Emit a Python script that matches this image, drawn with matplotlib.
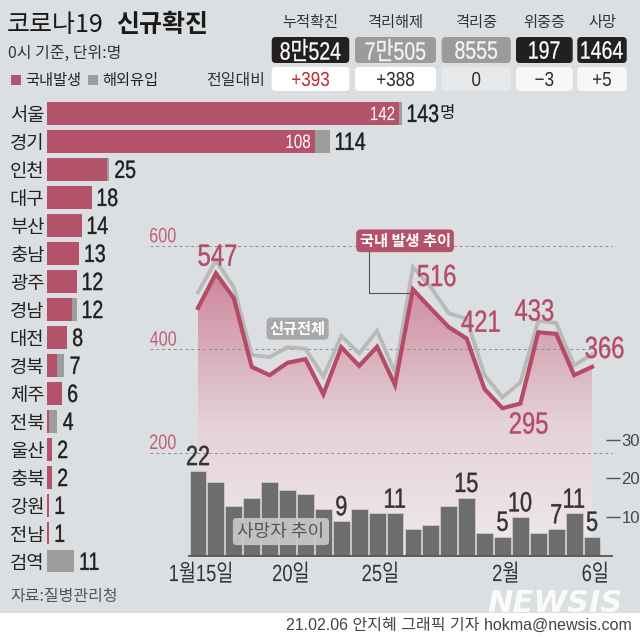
import numpy as np
import matplotlib

matplotlib.use("Agg")
import matplotlib.pyplot as plt
from matplotlib.patches import FancyBboxPatch, Rectangle, Polygon, PathPatch
from matplotlib.colors import LinearSegmentedColormap
from matplotlib.font_manager import FontProperties
from matplotlib.textpath import TextPath
from matplotlib.transforms import Affine2D, ScaledTranslation

W, H = 640, 637

# ---- data ----
regions = ["서울", "경기", "인천", "대구", "부산", "충남", "광주", "경남", "대전",
           "경북", "제주", "전북", "울산", "충북", "강원", "전남", "검역"]
local_by_region = [142, 108, 24, 18, 14, 13, 12, 10, 8, 4, 6, 1, 2, 2, 1, 1, 0]
imported_by_region = [1, 6, 1, 0, 0, 0, 0, 2, 0, 3, 0, 3, 0, 0, 0, 0, 11]

# 1/15 .. 2/6
total_cases = [510, 572, 520, 389, 385, 404, 401, 347, 426, 392, 436, 355, 559,
               520, 470, 459, 350, 307, 336, 455, 451, 369, 390]
local_cases = [480, 547, 499, 366, 350, 374, 381, 313, 404, 368, 405, 331, 516,
               479, 443, 421, 323, 286, 295, 433, 430, 350, 366]
deaths = [22, 19, 13, 15, 19, 17, 16, 12, 9, 12, 11, 11, 7, 8, 13, 15, 6, 5, 10,
          6, 7, 11, 5]
day_ticks = [0, 5, 10, 17, 22]
day_tick_labels = ["1월15일", "20일", "25일", "2월", "6일"]

local_labelled = [1, 12, 15, 18, 19, 22]
death_labelled = [0, 8, 11, 15, 17, 18, 20, 21, 22]

summary_heads = ["누적확진", "격리해제", "격리중", "위중증", "사망"]
summary_values = ["8만524", "7만505", "8555", "197", "1464"]
summary_change = ["+393", "+388", "0", "−3", "+5"]

# ---- style ----
BG = "#dcdfe2"
PINK = "#b4526b"
LINE_PINK = "#b54b69"
IMPORT_GRAY = "#9d9d9d"
DARK = "#231f20"

KR = ["Noto Sans CJK KR", "DejaVu Sans"]
NUM = ["Liberation Sans", "Noto Sans CJK KR", "DejaVu Sans"]


def px_rect(left, top, right, bottom):
    return [left / W, 1 - bottom / H, (right - left) / W, (bottom - top) / H]


def squeezed(ax, xy, s, size, color, ha="center", va="center", offset=(0, 0),
             sx=0.78, lw=0.0, zorder=6, trans=None):
    """condensed text: glyph outlines squeezed horizontally, anchored on ink box"""
    tp = TextPath((0, 0), s, size=size, prop=FontProperties(family=NUM))
    e = tp.get_extents()
    ox = {"left": e.x0, "center": (e.x0 + e.x1) / 2, "right": e.x1}[ha]
    oy = {"bottom": e.y0, "center": (e.y0 + e.y1) / 2, "top": e.y1}[va]
    k = ax.figure.dpi / 72
    tr = (Affine2D().translate(-ox, -oy).scale(sx * k, k)
          .translate(offset[0] * k, offset[1] * k)
          + ScaledTranslation(xy[0], xy[1], trans or ax.transData))
    p = PathPatch(tp, transform=tr, fc=color, ec=color if lw else "none", lw=lw,
                  zorder=zorder, clip_on=False)
    ax.add_artist(p)
    return p


def draw_region_bars(fig):
    ax = fig.add_axes(px_rect(47, 99.3, 460, 575.3))
    ax.set_facecolor("none")
    y = np.arange(len(regions))
    ax.barh(y, local_by_region, height=0.8, color=PINK)
    ax.barh(y, imported_by_region, left=local_by_region, height=0.8, color=IMPORT_GRAY)
    ax.set_ylim(len(regions) - 0.5, -0.5)
    ax.set_xlim(0, 166.5)
    ax.set_yticks(y, labels=regions, fontsize=13.5, color="#222222", family=KR)
    ax.tick_params(axis="y", length=0, pad=2)
    ax.set_xticks([])
    for s in ax.spines.values():
        s.set_visible(False)

    for i, (l, m) in enumerate(zip(local_by_region, imported_by_region)):
        p = squeezed(ax, (l + m, i), str(l + m), 18, "#1e1e1e", ha="left",
                     offset=(4.5, 0), lw=0.3)
        if i == 0:
            ax.annotate("명", xy=(1, 0.5), xycoords=p, xytext=(1, 0),
                        textcoords="offset points", ha="left", va="center",
                        fontsize=12, family=KR, color="#1e1e1e")
        if l > 100:
            squeezed(ax, (l, i), str(l), 14, "white", ha="right", offset=(-3.5, 0))


def draw_trend(fig):
    px_day, x0 = 17.91, 198.0
    x_lo, x_hi = (150 - x0) / px_day, (613 - x0) / px_day
    ax = fig.add_axes(px_rect(150, 226, 613, 556))
    ax.set_facecolor("none")
    days = np.arange(len(local_cases))

    # gradient fill under domestic line
    cmap = LinearSegmentedColormap.from_list(
        "fade", [(0, "#efeaec"), (0.45, "#e5d2d8"), (1, "#cb8398")])
    grad = np.linspace(0, 1, 256).reshape(-1, 1)
    im = ax.imshow(grad, extent=[days[0], days[-1], 0, 560], origin="lower",
                   aspect="auto", cmap=cmap, zorder=1)
    verts = np.column_stack([np.r_[days, days[-1], days[0]],
                             np.r_[local_cases, 0, 0]])
    poly = Polygon(verts, closed=True, facecolor="none", edgecolor="none")
    ax.add_patch(poly)
    im.set_clip_path(poly)

    for v in (200, 400, 600):
        ax.axhline(v, color="#8c8c8c", lw=0.7, ls=(0, (3, 3)), zorder=2)
        squeezed(ax, (x_lo, v), str(v), 15, "#c0607a", ha="left", va="bottom",
                 offset=(0, 2.5), zorder=2)

    ax.plot(days, total_cases, color="#b9b9b9", lw=2.8, zorder=3, solid_joinstyle="miter")
    ax.plot(days, local_cases, color=LINE_PINK, lw=3, zorder=4, solid_joinstyle="miter")

    offsets = {1: (1, 13), 12: (17, 10), 15: (10, 12.5), 18: (6, -14), 19: (-3, 16),
               22: (9, 14)}
    for i in local_labelled:
        squeezed(ax, (i, local_cases[i]), str(local_cases[i]), 22, LINE_PINK,
                 offset=offsets[i], lw=0.3)

    ax.plot([9.55, 9.55, 11.95], [600, 509, 509], color="#555555", lw=0.8, zorder=3)
    ax.text(11.56, 610, "국내 발생 추이", ha="center", va="center", fontsize=11,
            fontweight="bold", color="white", family=KR, zorder=7,
            bbox=dict(boxstyle="round,pad=0.22,rounding_size=0.3", fc=PINK, ec="none"))
    ax.text(5.56, 440, "신규전체", ha="center", va="center", fontsize=11,
            fontweight="bold", color="white", family=KR, zorder=7,
            bbox=dict(boxstyle="round,pad=0.2,rounding_size=0.3", fc="#a8a8a8", ec="none"))

    ax.set_xlim(x_lo, x_hi)
    ax.set_ylim(0, 330 / 0.5167)
    ax.set_yticks([])
    ax.set_xticks([])
    for d, lab in zip(day_ticks, day_tick_labels):
        squeezed(ax, (d, 0), lab, 17, "#333333", va="top", offset=(2, -4))
    for s in ax.spines.values():
        s.set_visible(False)

    # deaths
    tw = ax.twinx()
    tw.set_ylim(0, 330 / 3.88)
    tw.bar(days, deaths, width=0.94, color="#6d6d6d", edgecolor="#d2d2d2", lw=0.5, zorder=2)
    tw.hlines(0, -0.56, x_hi, color="#555555", lw=1.3, clip_on=False, zorder=3)
    for i in death_labelled:
        squeezed(tw, (i, deaths[i]), str(deaths[i]), 20, "#333333", va="bottom",
                 offset=(0, 4), lw=0.3)
    tw.text(4.63, 6.3, "사망자 추이", ha="center", va="center", fontsize=13,
            color="#555555", family=KR, zorder=5,
            bbox=dict(boxstyle="round,pad=0.25,rounding_size=0.2", fc="#c8c8c8",
                      ec="none", alpha=0.92))
    tw.set_yticks([10, 20, 30])
    tw.tick_params(axis="y", direction="inout", length=10, width=1, color="#555555",
                   labelsize=12, labelcolor="#444444", pad=1)
    for lbl in tw.get_yticklabels():
        lbl.set_family(NUM)
    for s in tw.spines.values():
        s.set_visible(False)


def draw_header(ov):
    ov.text(7, 25, "코로나19", fontsize=18, family=KR, color="#1a1a1a", va="center")
    ov.text(116, 25, "신규확진", fontsize=18, family=KR, fontweight="bold",
            color="#1a1a1a", va="center")
    ov.text(8, 53, "0시 기준, 단위:명", fontsize=11.5, family=KR, color="#333333", va="center")
    ov.add_patch(Rectangle((11, 75), 10, 10, fc=PINK, ec="none"))
    ov.text(25, 80, "국내발생", fontsize=11, family=KR, color="#222222", va="center")
    ov.add_patch(Rectangle((88, 75), 10, 10, fc=IMPORT_GRAY, ec="none"))
    ov.text(102, 80, "해외유입", fontsize=11, family=KR, color="#222222", va="center")
    ov.text(206, 80, "전일대비", fontsize=11.5, family=KR, color="#333333", va="center")

    cols = [(271.7, 349.3), (355, 436), (441.7, 510.7), (516, 572.7), (577.3, 626.7)]
    top_fc = [DARK, "#9b9b9b", "#9b9b9b", DARK, DARK]
    low_fc = ["#ffffff", "#ffffff", "#e6e8e9", "#f7f7f7", "#f7f7f7"]
    low_tc = ["#c1272d", "#2b2b2b", "#2b2b2b", "#2b2b2b", "#2b2b2b"]
    for k, (a, b) in enumerate(cols):
        cx = (a + b) / 2
        ov.text(cx, 23, summary_heads[k], ha="center", va="center", fontsize=11,
                family=KR, color="#333333")
        ov.add_patch(FancyBboxPatch((a, 37), b - a, 26, boxstyle="round,pad=0,rounding_size=4",
                                    fc=top_fc[k], ec="none"))
        squeezed(ov, (cx, 50), summary_values[k], 18, "white" if k != 1 and k != 2 else "#f4f4f4",
                 lw=0.2)
        ov.add_patch(FancyBboxPatch((a, 67), b - a, 24, boxstyle="round,pad=0,rounding_size=4",
                                    fc=low_fc[k], ec="none"))
        squeezed(ov, (cx, 79), summary_change[k], 14.5, low_tc[k], sx=0.85)


def draw_footer(ov):
    ov.text(10, 597, "자료:질병관리청", fontsize=11.5, family=KR, color="#555555", va="center")
    ov.add_patch(Rectangle((0, 612.5), W, H - 612.5, fc="white", ec="none", zorder=1))
    ov.text(555, 604, "NEWSIS", fontsize=22, fontweight="bold", style="italic",
            color="white", alpha=0.85, ha="center", va="center", family="DejaVu Sans",
            zorder=3)
    ov.text(632, 625, "21.02.06 안지혜 그래픽 기자 hokma@newsis.com", ha="right",
            va="center", fontsize=11.5, family=NUM, color="#444444", zorder=2)


def main():
    fig = plt.figure(figsize=(W / 100, H / 100), dpi=100, facecolor=BG)
    draw_region_bars(fig)
    draw_trend(fig)
    ov = fig.add_axes([0, 0, 1, 1])
    ov.set_xlim(0, W)
    ov.set_ylim(H, 0)
    ov.axis("off")
    draw_header(ov)
    draw_footer(ov)
    fig.savefig("out.png", dpi=100, facecolor=BG)
    plt.close(fig)


if __name__ == "__main__":
    main()
